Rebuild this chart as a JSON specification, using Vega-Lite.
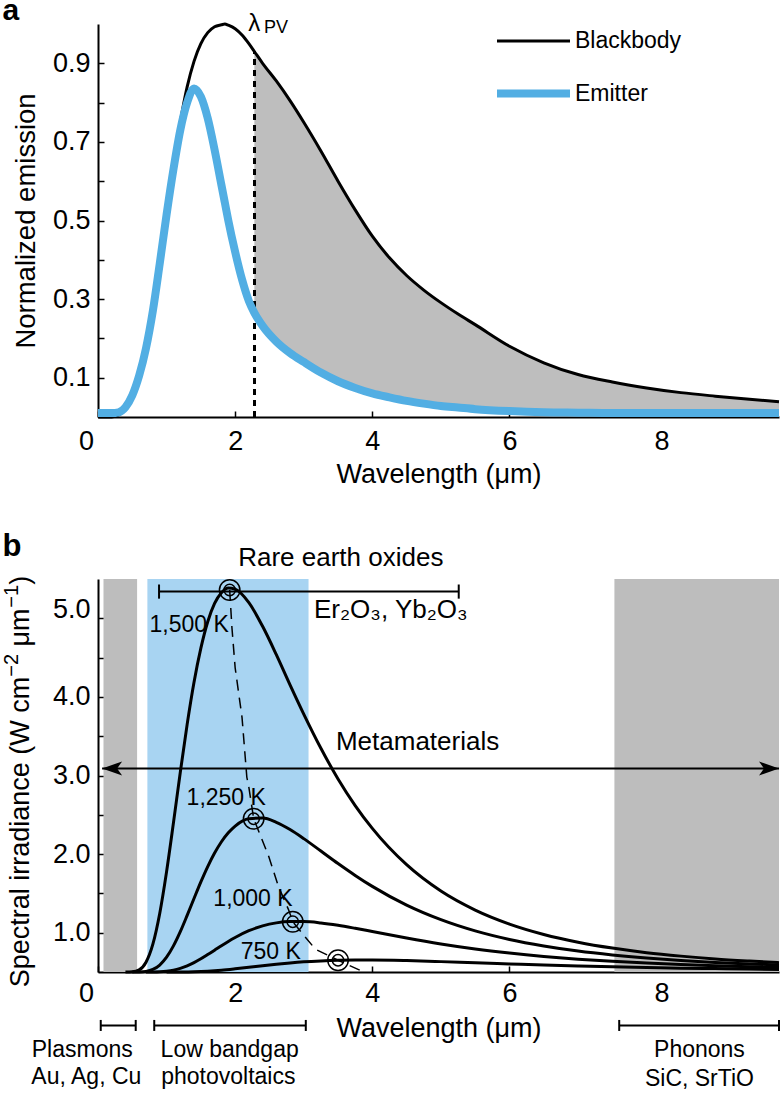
{
  "$schema": "https://vega.github.io/schema/vega-lite/v6.json",
  "padding": {"left": 1, "top": -4, "right": 0, "bottom": 0},
  "spacing": 44,
  "config": {
    "font": "Liberation Sans",
    "view": {"stroke": null},
    "axis": {"domainColor": "#000", "domainWidth": 2, "tickColor": "#000", "tickWidth": 1.5, "tickSize": -6, "labelFontSize": 27, "titleFontSize": 27, "labelColor": "#000", "titleColor": "#000", "titleFontWeight": "normal", "grid": false, "labelPadding": 14, "labelFlush": false, "labelFont": "Liberation Sans", "titleFont": "Liberation Sans"},
    "text": {"font": "Liberation Sans", "color": "#000"},
    "legend": {"labelFont": "Liberation Sans"}
  },
  "resolve": {"scale": {"x": "independent", "y": "independent", "color": "independent", "strokeWidth": "independent", "fill": "independent"}},
  "vconcat": [
    {
      "width": 681,
      "height": 393,
      "data": {"values": [
        {"x": 0, "Blackbody": 0, "Emitter": 0.01},
        {"x": 0.2, "Blackbody": 0, "Emitter": 0.01},
        {"x": 0.3, "Blackbody": 0.005, "Emitter": 0.012},
        {"x": 0.4, "Blackbody": 0.02, "Emitter": 0.025},
        {"x": 0.5, "Blackbody": 0.05, "Emitter": 0.055},
        {"x": 0.6, "Blackbody": 0.1, "Emitter": 0.105},
        {"x": 0.7, "Blackbody": 0.17, "Emitter": 0.175},
        {"x": 0.8, "Blackbody": 0.27, "Emitter": 0.27},
        {"x": 0.9, "Blackbody": 0.39, "Emitter": 0.39},
        {"x": 1.0, "Blackbody": 0.52, "Emitter": 0.515},
        {"x": 1.1, "Blackbody": 0.64, "Emitter": 0.63},
        {"x": 1.2, "Blackbody": 0.75, "Emitter": 0.73},
        {"x": 1.3, "Blackbody": 0.84, "Emitter": 0.8},
        {"x": 1.4, "Blackbody": 0.905, "Emitter": 0.836},
        {"x": 1.5, "Blackbody": 0.95, "Emitter": 0.815},
        {"x": 1.6, "Blackbody": 0.978, "Emitter": 0.76},
        {"x": 1.7, "Blackbody": 0.993, "Emitter": 0.68},
        {"x": 1.8, "Blackbody": 0.998, "Emitter": 0.59},
        {"x": 1.85, "Blackbody": 1.0, "Emitter": 0.545},
        {"x": 1.9, "Blackbody": 0.997, "Emitter": 0.5},
        {"x": 2.0, "Blackbody": 0.988, "Emitter": 0.42},
        {"x": 2.1, "Blackbody": 0.972, "Emitter": 0.35},
        {"x": 2.2, "Blackbody": 0.95, "Emitter": 0.295},
        {"x": 2.28, "Blackbody": 0.93, "Emitter": 0.265},
        {"x": 2.4, "Blackbody": 0.9, "Emitter": 0.232},
        {"x": 2.6, "Blackbody": 0.855, "Emitter": 0.192},
        {"x": 2.8, "Blackbody": 0.805, "Emitter": 0.163},
        {"x": 3.0, "Blackbody": 0.75, "Emitter": 0.14},
        {"x": 3.25, "Blackbody": 0.677, "Emitter": 0.113},
        {"x": 3.5, "Blackbody": 0.6, "Emitter": 0.091},
        {"x": 3.75, "Blackbody": 0.527, "Emitter": 0.074},
        {"x": 4.0, "Blackbody": 0.46, "Emitter": 0.06},
        {"x": 4.25, "Blackbody": 0.405, "Emitter": 0.05},
        {"x": 4.5, "Blackbody": 0.36, "Emitter": 0.041},
        {"x": 4.75, "Blackbody": 0.323, "Emitter": 0.034},
        {"x": 5.0, "Blackbody": 0.291, "Emitter": 0.028},
        {"x": 5.25, "Blackbody": 0.262, "Emitter": 0.024},
        {"x": 5.5, "Blackbody": 0.235, "Emitter": 0.02},
        {"x": 6.0, "Blackbody": 0.18, "Emitter": 0.015},
        {"x": 6.5, "Blackbody": 0.138, "Emitter": 0.012},
        {"x": 7.0, "Blackbody": 0.108, "Emitter": 0.011},
        {"x": 7.5, "Blackbody": 0.089, "Emitter": 0.01},
        {"x": 8.0, "Blackbody": 0.074, "Emitter": 0.01},
        {"x": 8.5, "Blackbody": 0.062, "Emitter": 0.01},
        {"x": 9.0, "Blackbody": 0.053, "Emitter": 0.01},
        {"x": 9.5, "Blackbody": 0.045, "Emitter": 0.01},
        {"x": 9.93, "Blackbody": 0.039, "Emitter": 0.01}
      ]},
      "layer": [
        {
          "transform": [{"filter": "datum.x >= 2.28"}],
          "mark": {"type": "area", "color": "#bebebe", "interpolate": "monotone"},
          "encoding": {
            "x": {"field": "x", "type": "quantitative", "scale": {"domain": [0, 9.93], "nice": false, "zero": false},
              "axis": {"title": "Wavelength (μm)", "values": [0, 2, 4, 6, 8], "format": "d", "labelPadding": 17, "titlePadding": 7,
                "labelOffset": {"condition": [{"test": "datum.value === 0", "value": -12}, {"test": "datum.value === 8", "value": 15}], "value": 0}}},
            "y": {"field": "Blackbody", "type": "quantitative", "scale": {"domain": [0, 1], "nice": false, "zero": false},
              "axis": {"title": "Normalized emission", "titleFontSize": 27.5, "values": [0.1, 0.2, 0.3, 0.4, 0.5, 0.6, 0.7, 0.8, 0.9], "labelExpr": "(round(datum.value*10) % 2 == 1) ? format(datum.value, '.1f') : ''", "titlePadding": 12}},
            "y2": {"field": "Emitter"}
          }
        },
        {
          "mark": {"type": "rule", "color": "#000", "strokeWidth": 2.5, "strokeDash": [6, 5]},
          "encoding": {"x": {"datum": 2.28, "type": "quantitative"}, "y": {"datum": 0, "type": "quantitative"}, "y2": {"datum": 0.93}}
        },
        {
          "transform": [{"fold": ["Blackbody", "Emitter"], "as": ["series", "v"]}],
          "mark": {"type": "line", "interpolate": "monotone"},
          "encoding": {
            "x": {"field": "x", "type": "quantitative"},
            "y": {"field": "v", "type": "quantitative"},
            "color": {"field": "series", "type": "nominal", "scale": {"domain": ["Blackbody", "Emitter"], "range": ["#000000", "#52aee3"]},
              "legend": {"title": null, "orient": "none", "legendX": 395, "legendY": -21, "symbolType": "stroke", "symbolSize": 5329, "labelFontSize": 23, "labelOffset": 1, "rowPadding": -8, "labelColor": "#000"}},
            "strokeWidth": {"field": "series", "type": "nominal", "scale": {"domain": ["Blackbody", "Emitter"], "range": [3, 8]},
              "legend": {"title": null, "orient": "none", "legendX": 395, "legendY": -21, "symbolType": "stroke", "symbolSize": 5329, "labelFontSize": 23, "labelOffset": 1, "rowPadding": -8, "labelColor": "#000"}}
          }
        },
        {
          "data": {"values": [{"x": -1.393, "y": 1.009, "t": "a"}]},
          "mark": {"type": "text", "align": "left", "baseline": "alphabetic", "fontSize": 30, "fontWeight": "bold"},
          "encoding": {"x": {"field": "x", "type": "quantitative"}, "y": {"field": "y", "type": "quantitative"}, "text": {"field": "t"}}
        },
        {
          "data": {"values": [{"x": 2.28, "y": 0.983, "t": "λ"}]},
          "mark": {"type": "text", "align": "center", "baseline": "alphabetic", "fontSize": 24},
          "encoding": {"x": {"field": "x", "type": "quantitative"}, "y": {"field": "y", "type": "quantitative"}, "text": {"field": "t"}}
        },
        {
          "data": {"values": [{"x": 2.42, "y": 0.977, "t": "PV"}]},
          "mark": {"type": "text", "align": "left", "baseline": "alphabetic", "fontSize": 18},
          "encoding": {"x": {"field": "x", "type": "quantitative"}, "y": {"field": "y", "type": "quantitative"}, "text": {"field": "t"}}
        }
      ]
    },
    {
      "width": 681,
      "height": 393,
      "layer": [
        {
          "data": {"values": [
            {"band": "Plasmons", "x1": 0.08, "x2": 0.57},
            {"band": "Low bandgap photovoltaics", "x1": 0.72, "x2": 3.07},
            {"band": "Phonons", "x1": 7.53, "x2": 9.93}
          ]},
          "mark": {"type": "rect"},
          "encoding": {
            "x": {"field": "x1", "type": "quantitative", "scale": {"domain": [0, 9.93], "nice": false, "zero": false},
              "axis": {"title": "Wavelength (μm)", "values": [0, 2, 4, 6, 8], "format": "d", "titlePadding": 9,
                "labelOffset": {"condition": [{"test": "datum.value === 0", "value": -12}, {"test": "datum.value === 8", "value": 15}], "value": 0}}},
            "x2": {"field": "x2"},
            "y": {"datum": 5.5, "type": "quantitative", "scale": {"domain": [0.5, 5.5], "nice": false, "zero": false},
              "axis": {"title": null, "values": [1, 1.5, 2, 2.5, 3, 3.5, 4, 4.5, 5], "labelExpr": "(datum.value % 1 == 0) ? format(datum.value, '.1f') : ''",
                "labelOffset": {"condition": {"test": "datum.value === 5", "value": -9}, "value": 0}}},
            "y2": {"datum": 0.5},
            "fill": {"field": "band", "type": "nominal", "scale": {"domain": ["Plasmons", "Low bandgap photovoltaics", "Phonons"], "range": ["#bdbdbd", "#a8d4f2", "#bdbdbd"]}, "legend": null}
          }
        },
        {
          "data": {"values": [
            {"T": "1500", "x": 0.4, "v": 0.5}, {"T": "1500", "x": 0.5, "v": 0.503}, {"T": "1500", "x": 0.6, "v": 0.527}, {"T": "1500", "x": 0.7, "v": 0.625}, {"T": "1500", "x": 0.8, "v": 0.854}, {"T": "1500", "x": 0.9, "v": 1.245}, {"T": "1500", "x": 1.0, "v": 1.777}, {"T": "1500", "x": 1.1, "v": 2.397}, {"T": "1500", "x": 1.2, "v": 3.041}, {"T": "1500", "x": 1.3, "v": 3.65}, {"T": "1500", "x": 1.4, "v": 4.186}, {"T": "1500", "x": 1.5, "v": 4.62}, {"T": "1500", "x": 1.6, "v": 4.956}, {"T": "1500", "x": 1.7, "v": 5.189}, {"T": "1500", "x": 1.8, "v": 5.325}, {"T": "1500", "x": 1.9, "v": 5.384}, {"T": "1500", "x": 2.0, "v": 5.371}, {"T": "1500", "x": 2.2, "v": 5.199}, {"T": "1500", "x": 2.4, "v": 4.898}, {"T": "1500", "x": 2.6, "v": 4.538}, {"T": "1500", "x": 2.8, "v": 4.154}, {"T": "1500", "x": 3.0, "v": 3.782}, {"T": "1500", "x": 3.25, "v": 3.347}, {"T": "1500", "x": 3.5, "v": 2.956}, {"T": "1500", "x": 3.75, "v": 2.618}, {"T": "1500", "x": 4.0, "v": 2.327}, {"T": "1500", "x": 4.5, "v": 1.865}, {"T": "1500", "x": 5.0, "v": 1.53}, {"T": "1500", "x": 5.5, "v": 1.288}, {"T": "1500", "x": 6.0, "v": 1.11}, {"T": "1500", "x": 6.5, "v": 0.978}, {"T": "1500", "x": 7.0, "v": 0.879}, {"T": "1500", "x": 7.5, "v": 0.804}, {"T": "1500", "x": 8.0, "v": 0.746}, {"T": "1500", "x": 8.5, "v": 0.702}, {"T": "1500", "x": 9.0, "v": 0.666}, {"T": "1500", "x": 9.5, "v": 0.639}, {"T": "1500", "x": 9.93, "v": 0.619},
            {"T": "1250", "x": 0.5, "v": 0.5}, {"T": "1250", "x": 0.6, "v": 0.501}, {"T": "1250", "x": 0.7, "v": 0.508}, {"T": "1250", "x": 0.8, "v": 0.532}, {"T": "1250", "x": 0.9, "v": 0.588}, {"T": "1250", "x": 1.0, "v": 0.688}, {"T": "1250", "x": 1.1, "v": 0.832}, {"T": "1250", "x": 1.2, "v": 1.013}, {"T": "1250", "x": 1.3, "v": 1.22}, {"T": "1250", "x": 1.4, "v": 1.435}, {"T": "1250", "x": 1.5, "v": 1.646}, {"T": "1250", "x": 1.6, "v": 1.841}, {"T": "1250", "x": 1.7, "v": 2.013}, {"T": "1250", "x": 1.8, "v": 2.157}, {"T": "1250", "x": 1.9, "v": 2.271}, {"T": "1250", "x": 2.0, "v": 2.357}, {"T": "1250", "x": 2.2, "v": 2.45}, {"T": "1250", "x": 2.4, "v": 2.458}, {"T": "1250", "x": 2.6, "v": 2.404}, {"T": "1250", "x": 2.8, "v": 2.312}, {"T": "1250", "x": 3.0, "v": 2.197}, {"T": "1250", "x": 3.25, "v": 2.039}, {"T": "1250", "x": 3.5, "v": 1.88}, {"T": "1250", "x": 3.75, "v": 1.729}, {"T": "1250", "x": 4.0, "v": 1.589}, {"T": "1250", "x": 4.5, "v": 1.351}, {"T": "1250", "x": 5.0, "v": 1.166}, {"T": "1250", "x": 5.5, "v": 1.023}, {"T": "1250", "x": 6.0, "v": 0.914}, {"T": "1250", "x": 6.5, "v": 0.831}, {"T": "1250", "x": 7.0, "v": 0.766}, {"T": "1250", "x": 7.5, "v": 0.717}, {"T": "1250", "x": 8.0, "v": 0.678}, {"T": "1250", "x": 8.5, "v": 0.647}, {"T": "1250", "x": 9.0, "v": 0.622}, {"T": "1250", "x": 9.5, "v": 0.603}, {"T": "1250", "x": 9.93, "v": 0.589},
            {"T": "1000", "x": 0.7, "v": 0.5}, {"T": "1000", "x": 0.8, "v": 0.501}, {"T": "1000", "x": 0.9, "v": 0.504}, {"T": "1000", "x": 1.0, "v": 0.511}, {"T": "1000", "x": 1.1, "v": 0.524}, {"T": "1000", "x": 1.2, "v": 0.547}, {"T": "1000", "x": 1.3, "v": 0.579}, {"T": "1000", "x": 1.4, "v": 0.62}, {"T": "1000", "x": 1.5, "v": 0.668}, {"T": "1000", "x": 1.6, "v": 0.722}, {"T": "1000", "x": 1.7, "v": 0.778}, {"T": "1000", "x": 1.8, "v": 0.835}, {"T": "1000", "x": 1.9, "v": 0.889}, {"T": "1000", "x": 2.0, "v": 0.939}, {"T": "1000", "x": 2.2, "v": 1.025}, {"T": "1000", "x": 2.4, "v": 1.087}, {"T": "1000", "x": 2.6, "v": 1.125}, {"T": "1000", "x": 2.8, "v": 1.141}, {"T": "1000", "x": 3.0, "v": 1.141}, {"T": "1000", "x": 3.25, "v": 1.124}, {"T": "1000", "x": 3.5, "v": 1.094}, {"T": "1000", "x": 3.75, "v": 1.056}, {"T": "1000", "x": 4.0, "v": 1.015}, {"T": "1000", "x": 4.5, "v": 0.932}, {"T": "1000", "x": 5.0, "v": 0.857}, {"T": "1000", "x": 5.5, "v": 0.793}, {"T": "1000", "x": 6.0, "v": 0.741}, {"T": "1000", "x": 6.5, "v": 0.698}, {"T": "1000", "x": 7.0, "v": 0.663}, {"T": "1000", "x": 7.5, "v": 0.636}, {"T": "1000", "x": 8.0, "v": 0.613}, {"T": "1000", "x": 8.5, "v": 0.595}, {"T": "1000", "x": 9.0, "v": 0.58}, {"T": "1000", "x": 9.5, "v": 0.568}, {"T": "1000", "x": 9.93, "v": 0.559},
            {"T": "750", "x": 1.0, "v": 0.5}, {"T": "750", "x": 1.2, "v": 0.501}, {"T": "750", "x": 1.4, "v": 0.504}, {"T": "750", "x": 1.6, "v": 0.511}, {"T": "750", "x": 1.8, "v": 0.523}, {"T": "750", "x": 2.0, "v": 0.54}, {"T": "750", "x": 2.2, "v": 0.559}, {"T": "750", "x": 2.4, "v": 0.579}, {"T": "750", "x": 2.6, "v": 0.598}, {"T": "750", "x": 2.8, "v": 0.615}, {"T": "750", "x": 3.0, "v": 0.629}, {"T": "750", "x": 3.25, "v": 0.641}, {"T": "750", "x": 3.5, "v": 0.649}, {"T": "750", "x": 3.75, "v": 0.652}, {"T": "750", "x": 4.0, "v": 0.652}, {"T": "750", "x": 4.5, "v": 0.645}, {"T": "750", "x": 5.0, "v": 0.632}, {"T": "750", "x": 5.5, "v": 0.617}, {"T": "750", "x": 6.0, "v": 0.603}, {"T": "750", "x": 6.5, "v": 0.589}, {"T": "750", "x": 7.0, "v": 0.577}, {"T": "750", "x": 7.5, "v": 0.566}, {"T": "750", "x": 8.0, "v": 0.557}, {"T": "750", "x": 8.5, "v": 0.549}, {"T": "750", "x": 9.0, "v": 0.543}, {"T": "750", "x": 9.5, "v": 0.537}, {"T": "750", "x": 9.93, "v": 0.533}
          ]},
          "mark": {"type": "line", "color": "#000", "strokeWidth": 3, "interpolate": "monotone"},
          "encoding": {"x": {"field": "x", "type": "quantitative"}, "y": {"field": "v", "type": "quantitative"}, "detail": {"field": "T", "type": "nominal"}}
        },
        {
          "data": {"values": [
            {"x": 1.92, "v": 5.36}, {"x": 1.953, "v": 4.88}, {"x": 2.0, "v": 4.37}, {"x": 2.1, "v": 3.74}, {"x": 2.17, "v": 2.98}, {"x": 2.2, "v": 2.85}, {"x": 2.27, "v": 2.45}, {"x": 2.49, "v": 1.97}, {"x": 2.63, "v": 1.59}, {"x": 2.78, "v": 1.29}, {"x": 2.84, "v": 1.14}, {"x": 2.97, "v": 1.0}, {"x": 3.17, "v": 0.79}, {"x": 3.5, "v": 0.65}, {"x": 3.85, "v": 0.51}
          ]},
          "mark": {"type": "line", "color": "#000", "strokeWidth": 1.5, "strokeDash": [11, 7]},
          "encoding": {"x": {"field": "x", "type": "quantitative"}, "y": {"field": "v", "type": "quantitative"}}
        },
        {
          "data": {"values": [{"x": 1.92, "v": 5.36}, {"x": 2.27, "v": 2.45}, {"x": 2.84, "v": 1.14}, {"x": 3.5, "v": 0.65}]},
          "layer": [
            {"mark": {"type": "point", "shape": "circle", "filled": false, "size": 420, "color": "#000", "strokeWidth": 1.5, "opacity": 1},
             "encoding": {"x": {"field": "x", "type": "quantitative"}, "y": {"field": "v", "type": "quantitative"}}},
            {"mark": {"type": "point", "shape": "circle", "filled": false, "size": 130, "color": "#000", "strokeWidth": 1.5, "opacity": 1},
             "encoding": {"x": {"field": "x", "type": "quantitative"}, "y": {"field": "v", "type": "quantitative"}}}
          ]
        },
        {
          "data": {"values": [
            {"x": 1.33, "y": 4.83, "t": "1,500 K"}, {"x": 1.87, "y": 2.62, "t": "1,250 K"}, {"x": 2.26, "y": 1.34, "t": "1,000 K"}, {"x": 2.52, "y": 0.66, "t": "750 K"}
          ]},
          "mark": {"type": "text", "align": "center", "baseline": "alphabetic", "fontSize": 23},
          "encoding": {"x": {"field": "x", "type": "quantitative"}, "y": {"field": "y", "type": "quantitative"}, "text": {"field": "t"}}
        },
        {
          "data": {"values": [{"x1": 0.89, "x2": 5.26}]},
          "layer": [
            {"mark": {"type": "rule", "color": "#000", "strokeWidth": 2},
             "encoding": {"x": {"field": "x1", "type": "quantitative"}, "x2": {"field": "x2"}, "y": {"datum": 5.34, "type": "quantitative"}}},
            {"mark": {"type": "rule", "color": "#000", "strokeWidth": 2},
             "encoding": {"x": {"field": "x1", "type": "quantitative"}, "y": {"datum": 5.25, "type": "quantitative"}, "y2": {"datum": 5.43}}},
            {"mark": {"type": "rule", "color": "#000", "strokeWidth": 2},
             "encoding": {"x": {"field": "x2", "type": "quantitative"}, "y": {"datum": 5.25, "type": "quantitative"}, "y2": {"datum": 5.43}}}
          ]
        },
        {
          "data": {"values": [{"x1": 0.06, "x2": 9.93}]},
          "layer": [
            {"mark": {"type": "rule", "color": "#000", "strokeWidth": 2},
             "encoding": {"x": {"field": "x1", "type": "quantitative"}, "x2": {"field": "x2"}, "y": {"datum": 3.09, "type": "quantitative"}}},
            {"mark": {"type": "point", "shape": "M0,0L2,-0.7L1.5,0L2,0.7Z", "filled": true, "size": 400, "color": "#000", "opacity": 1},
             "encoding": {"x": {"field": "x1", "type": "quantitative"}, "y": {"datum": 3.09, "type": "quantitative"}}},
            {"mark": {"type": "point", "shape": "M0,0L-2,-0.7L-1.5,0L-2,0.7Z", "filled": true, "size": 400, "color": "#000", "opacity": 1},
             "encoding": {"x": {"field": "x2", "type": "quantitative"}, "y": {"datum": 3.09, "type": "quantitative"}}}
          ]
        },
        {
          "data": {"values": [{"x": 3.54, "y": 5.66, "t": "Rare earth oxides"}, {"x": 4.66, "y": 3.32, "t": "Metamaterials"}]},
          "mark": {"type": "text", "align": "center", "baseline": "alphabetic", "fontSize": 26},
          "encoding": {"x": {"field": "x", "type": "quantitative"}, "y": {"field": "y", "type": "quantitative"}, "text": {"field": "t"}}
        },
        {
          "data": {"values": [{"x": 3.15, "y": 5.0, "t": "Er₂O₃, Yb₂O₃"}]},
          "mark": {"type": "text", "align": "left", "baseline": "alphabetic", "fontSize": 26},
          "encoding": {"x": {"field": "x", "type": "quantitative"}, "y": {"field": "y", "type": "quantitative"}, "text": {"field": "t"}}
        },
        {
          "data": {"values": [{"x": -1.393, "y": 5.79, "t": "b"}]},
          "mark": {"type": "text", "align": "left", "baseline": "alphabetic", "fontSize": 31, "fontWeight": "bold"},
          "encoding": {"x": {"field": "x", "type": "quantitative"}, "y": {"field": "y", "type": "quantitative"}, "text": {"field": "t"}}
        },
        {
          "data": {"values": [
            {"x": -1.013, "y": 0.306, "t": "Spectral irradiance (W cm"},
            {"x": -1.013, "y": 4.642, "t": "μm"},
            {"x": -1.013, "y": 5.427, "t": ")"}
          ]},
          "mark": {"type": "text", "align": "left", "baseline": "alphabetic", "fontSize": 27, "angle": 270},
          "encoding": {"x": {"field": "x", "type": "quantitative"}, "y": {"field": "y", "type": "quantitative"}, "text": {"field": "t"}}
        },
        {
          "data": {"values": [
            {"x": -1.173, "y": 4.256, "t": "−2"},
            {"x": -1.173, "y": 5.135, "t": "−1"}
          ]},
          "mark": {"type": "text", "align": "left", "baseline": "alphabetic", "fontSize": 20, "angle": 270},
          "encoding": {"x": {"field": "x", "type": "quantitative"}, "y": {"field": "y", "type": "quantitative"}, "text": {"field": "t"}}
        },
        {
          "data": {"values": [
            {"name": "Plasmons", "x1": 0.04, "x2": 0.55},
            {"name": "Low bandgap photovoltaics", "x1": 0.82, "x2": 3.03},
            {"name": "Phonons", "x1": 7.6, "x2": 9.93}
          ]},
          "layer": [
            {"mark": {"type": "rule", "color": "#000", "strokeWidth": 2},
             "encoding": {"x": {"field": "x1", "type": "quantitative"}, "x2": {"field": "x2"}, "y": {"datum": -0.18, "type": "quantitative"}}},
            {"mark": {"type": "rule", "color": "#000", "strokeWidth": 2},
             "encoding": {"x": {"field": "x1", "type": "quantitative"}, "y": {"datum": -0.25, "type": "quantitative"}, "y2": {"datum": -0.11}}},
            {"mark": {"type": "rule", "color": "#000", "strokeWidth": 2},
             "encoding": {"x": {"field": "x2", "type": "quantitative"}, "y": {"datum": -0.25, "type": "quantitative"}, "y2": {"datum": -0.11}}}
          ]
        },
        {
          "data": {"values": [
            {"x": -0.23, "y": -0.58, "t": "Plasmons"}, {"x": -0.17, "y": -0.93, "t": "Au, Ag, Cu"},
            {"x": 1.92, "y": -0.58, "t": "Low bandgap"}, {"x": 1.9, "y": -0.93, "t": "photovoltaics"},
            {"x": 8.77, "y": -0.58, "t": "Phonons"}, {"x": 8.77, "y": -0.95, "t": "SiC, SrTiO"}
          ]},
          "mark": {"type": "text", "align": "center", "baseline": "alphabetic", "fontSize": 23},
          "encoding": {"x": {"field": "x", "type": "quantitative"}, "y": {"field": "y", "type": "quantitative"}, "text": {"field": "t"}}
        }
      ]
    }
  ]
}
